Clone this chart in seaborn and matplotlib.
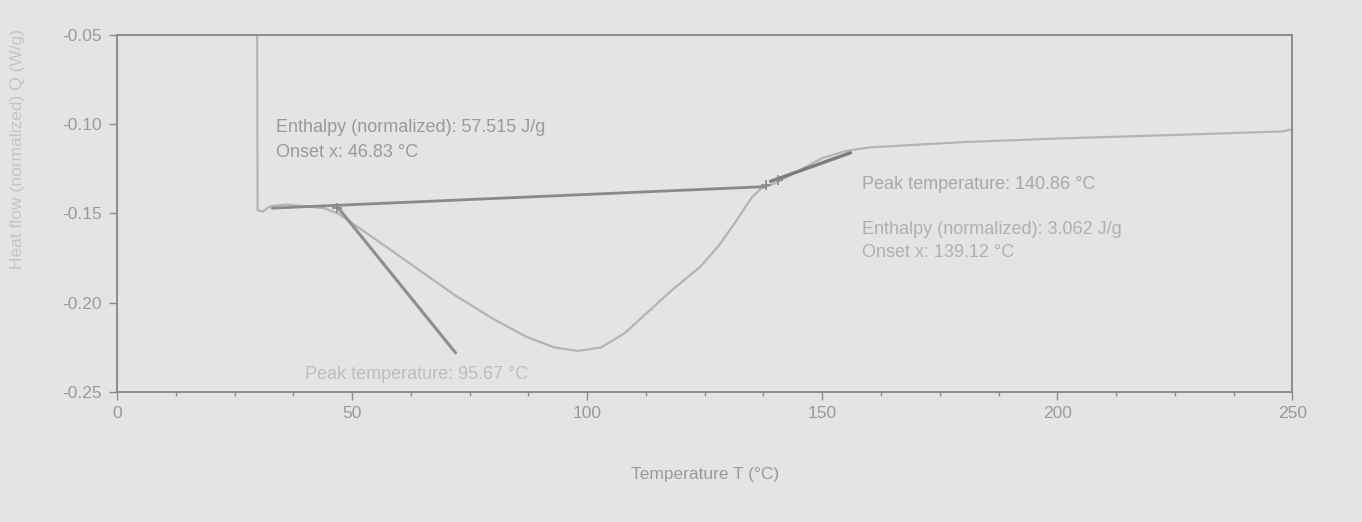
"""
DSC curve: normalized heat flow vs temperature, with onset / baseline construction
"""

import numpy as np
import pandas as pd
import matplotlib
matplotlib.use('Agg')
import matplotlib.pyplot as plt
from matplotlib.ticker import MultipleLocator, FormatStrFormatter
import seaborn as sns

temperature = [29.8, 29.9, 31.0, 32.5, 36.0, 40.0, 44.0, 47.0, 52.0, 58.0,
               65.0, 72.0, 80.0, 87.0, 93.0, 98.0, 103.0, 108.0, 113.0, 118.0,
               124.0, 128.0, 132.0, 135.0, 137.0, 140.0, 145.0, 150.0, 155.0,
               160.0, 180.0, 200.0, 225.0, 248.0, 249.5]
heat_flow = [-0.040, -0.148, -0.149, -0.146, -0.145, -0.146, -0.147, -0.150,
             -0.159, -0.170, -0.183, -0.196, -0.209, -0.219, -0.225, -0.227,
             -0.225, -0.217, -0.205, -0.193, -0.180, -0.168, -0.153, -0.141,
             -0.136, -0.133, -0.126, -0.119, -0.115, -0.113, -0.110, -0.108,
             -0.106, -0.104, -0.103]

# Evaluation lines drawn by the instrument software
baseline_t = [33.0, 137.5]
baseline_q = [-0.147, -0.135]
tangent1_t = [46.8, 72.0]
tangent1_q = [-0.146, -0.228]
tangent2_t = [139.0, 156.0]
tangent2_q = [-0.132, -0.116]
marker_t = [46.8, 138.0, 140.5]
marker_q = [-0.147, -0.134, -0.131]

x_ticks = [0, 50, 100, 150, 200, 250]
y_ticks = [-0.25, -0.20, -0.15, -0.10, -0.05]

ann_left = ['Enthalpy (normalized): 57.515 J/g', 'Onset x: 46.83 °C']
ann_right = ['Peak temperature: 140.86 °C', 'Enthalpy (normalized): 3.062 J/g',
             'Onset x: 139.12 °C']
ann_bottom = 'Peak temperature: 95.67 °C'

bg = '#e4e4e4'
txt = '#9a9a9a'
axis_c = '#8c8c8c'

sns.set_theme(style='white')
plt.rcParams['font.family'] = ['Liberation Sans', 'DejaVu Sans']

fig = plt.figure(figsize=(13.62, 5.22), dpi=100, facecolor=bg)
ax = fig.add_axes([0.0859, 0.249, 0.863, 0.684], facecolor=bg)

df = pd.DataFrame({'T': temperature, 'Q': heat_flow})
sns.lineplot(data=df, x='T', y='Q', sort=False, ax=ax, color='#b4b4b4', linewidth=1.6)
sns.lineplot(x=baseline_t, y=baseline_q, sort=False, ax=ax, color='#8a8a8a', linewidth=2.0)
sns.lineplot(x=tangent1_t, y=tangent1_q, sort=False, ax=ax, color='#8e8e8e', linewidth=2.2)
sns.lineplot(x=tangent2_t, y=tangent2_q, sort=False, ax=ax, color='#7c7c7c', linewidth=2.4)
ax.plot(marker_t, marker_q, linestyle='none', marker='+', color='#888888', markersize=7, mew=1.2)

ax.set_xlim(0, 250)
ax.set_ylim(-0.25, -0.05)
ax.set_xticks(x_ticks)
ax.set_yticks(y_ticks)
ax.xaxis.set_minor_locator(MultipleLocator(12.5))
ax.yaxis.set_major_formatter(FormatStrFormatter('%.2f'))
ax.tick_params(axis='both', which='major', direction='out', length=6, width=1,
               color=axis_c, labelcolor=txt, labelsize=12.5, pad=5)
ax.tick_params(axis='x', which='minor', direction='out', length=3, width=1, color=axis_c)
ax.tick_params(axis='x', which='major', pad=4)
ax.tick_params(bottom=True, left=True, which='both')

for side in ['left', 'right', 'top', 'bottom']:
    ax.spines[side].set_visible(True)
    ax.spines[side].set_color(axis_c)
    ax.spines[side].set_linewidth(1.4)

ax.set_xlabel('Temperature T (°C)', color=txt, fontsize=12.5, labelpad=33)
ax.set_ylabel('Heat flow (normalized) Q (W/g)', color='#c4c4c4', fontsize=12.5)
ax.yaxis.set_label_coords(-0.078, 0.68)

ax.text(0.135, 0.742, ann_left[0], transform=ax.transAxes, color=txt, fontsize=13, va='center')
ax.text(0.135, 0.672, ann_left[1], transform=ax.transAxes, color=txt, fontsize=13, va='center')
ax.text(0.634, 0.58, ann_right[0], transform=ax.transAxes, color='#a8a8a8', fontsize=13, va='center')
ax.text(0.634, 0.454, ann_right[1], transform=ax.transAxes, color='#b0b0b0', fontsize=13, va='center')
ax.text(0.634, 0.392, ann_right[2], transform=ax.transAxes, color='#b0b0b0', fontsize=13, va='center')
ax.text(0.16, 0.048, ann_bottom, transform=ax.transAxes, color='#bdbdbd', fontsize=13, va='center')

fig.savefig('out.png', dpi=100, facecolor=bg)
plt.close(fig)
